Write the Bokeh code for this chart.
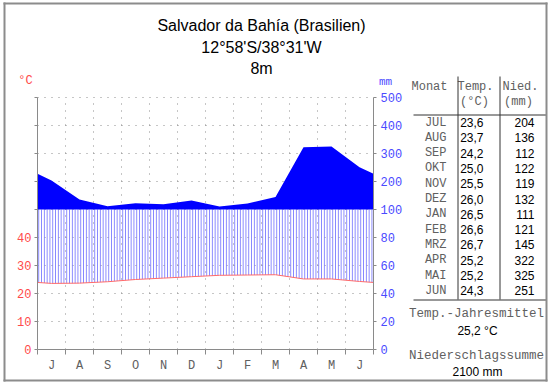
import numpy as np
from bokeh.plotting import figure
from bokeh.models import Range1d, LinearAxis, FixedTicker
from bokeh.core.properties import value
from bokeh.embed import file_html
from bokeh.resources import INLINE

# ---------------- data ----------------
station = "Salvador da Bahía (Brasilien)"
coords = "12°58'S/38°31'W"
elevation = "8m"
axis_months = ["J", "A", "S", "O", "N", "D", "J", "F", "M", "A", "M", "J"]
table_months = ["JUL", "AUG", "SEP", "OKT", "NOV", "DEZ", "JAN", "FEB", "MRZ", "APR", "MAI", "JUN"]
temp = [23.6, 23.7, 24.2, 25.0, 25.5, 26.0, 26.5, 26.6, 26.7, 25.2, 25.2, 24.3]
precip = [204, 136, 112, 122, 119, 132, 111, 121, 145, 322, 325, 251]
temp_mean_label = "Temp.-Jahresmittel"
temp_mean_text = "25,2 °C"
precip_sum_label = "Niederschlagssumme"
precip_sum_text = "2100 mm"
temp_tick_labels = [0, 10, 20, 30, 40]
mm_tick_labels = [0, 20, 40, 60, 80, 100, 200, 300, 400, 500]

# ---------------- style ----------------
W, H = 550, 384
FONT_MONO = "Liberation Mono"
FONT_SANS = "Liberation Sans"
RED = "#ff4a4a"
BLUE = "#4a4aff"
GRAY_TXT = "#606060"
AXIS_GRAY = "#8a8a8a"
BORDER = "#8c8c8c"
RULE = "#333333"

# chart frame in page pixels
FL, FR, FT, FB = 37, 373, 97, 349
PX_X = (FR - FL) / 12.0      # pixels per month
PX_Y = (FB - FT) / 90.0      # pixels per scale unit (10 °C = 20 mm below 100 mm)


def mm_scale(m):
    m = np.asarray(m, dtype=float)
    return np.where(m <= 100, m / 2.0, 50 + (m - 100) / 10.0)


x_range = Range1d(-FL / PX_X, 12 + (W - FR) / PX_X)
y_range = Range1d(-(H - FB) / PX_Y, 90 + FT / PX_Y)

p = figure(width=W, height=H, x_range=x_range, y_range=y_range,
           min_border=0, x_axis_location=None, y_axis_location=None,
           toolbar_location=None, output_backend="svg", title=None)
p.grid.visible = False
p.outline_line_color = None
p.background_fill_color = "white"
p.border_fill_color = "white"
p.extra_x_ranges = {"px": Range1d(0, W)}
p.extra_y_ranges = {"px": Range1d(H, 0)}


def txt(x, y, s, font=FONT_MONO, size="12px", color=GRAY_TXT,
        align="center", baseline="middle"):
    p.text(x=[x], y=[y], text=[s], text_font=value(font), text_font_size=value(size),
           text_color=color, text_align=align, text_baseline=baseline,
           x_range_name="px", y_range_name="px")


def seg(x0, y0, x1, y1, color=RULE, width=1):
    p.segment(x0=[x0], y0=[y0], x1=[x1], y1=[y1], line_color=color, line_width=width,
              x_range_name="px", y_range_name="px")


# ---------------- dotted grid (inside chart only) ----------------
gx = list(range(1, 12))
gy = list(range(10, 91, 10))
p.segment(x0=gx, y0=[0] * len(gx), x1=gx, y1=[90] * len(gx),
          line_color="#8c8c8c", line_dash="1 6", line_width=1)
p.segment(x0=[0] * len(gy), y0=gy, x1=[12] * len(gy), y1=gy,
          line_color="#8c8c8c", line_dash="1 6", line_width=1)

# ---------------- climate curves ----------------
centers = [i + 0.5 for i in range(12)]
xs = [0.0] + centers + [12.0]
p_edge = float(mm_scale((precip[0] + precip[-1]) / 2.0))
pv = np.concatenate([[p_edge], mm_scale(precip), [p_edge]])
t_edge = (temp[0] + temp[-1]) / 2.0
tv = np.array([t_edge] + temp + [t_edge])

p.varea(x=xs, y1=tv, y2=np.minimum(pv, 50), fill_alpha=0,
        hatch_pattern="vertical_line", hatch_color="#8080ff",
        hatch_scale=2.8, hatch_weight=1)
p.varea(x=xs, y1=50, y2=np.maximum(pv, 50), fill_color="#0000ff")
p.line(x=xs, y=tv, line_color="#ff6a6a", line_width=1)

# ---------------- axes (fixed inside the canvas) ----------------
xa = LinearAxis(fixed_location=0, bounds=(0, 12),
                ticker=FixedTicker(ticks=centers, minor_ticks=list(range(13))),
                major_label_overrides={c: m for c, m in zip(centers, axis_months)})
xa.major_tick_out = 0
xa.major_tick_in = 0
xa.minor_tick_out = 5
xa.minor_tick_in = 0
xa.axis_line_color = AXIS_GRAY
xa.minor_tick_line_color = AXIS_GRAY
xa.major_label_text_font = FONT_MONO
xa.major_label_text_font_size = "12px"
xa.major_label_text_color = GRAY_TXT
xa.major_label_standoff = 4
p.add_layout(xa, "below")

lv = list(range(0, 91, 10))
ya = LinearAxis(fixed_location=0, bounds=(0, 90), ticker=FixedTicker(ticks=lv),
                major_label_overrides={v: (str(v) if v in temp_tick_labels else "") for v in lv})
ya.major_tick_out = 3
ya.major_tick_in = 0
ya.minor_tick_out = 0
ya.minor_tick_in = 0
ya.axis_line_color = AXIS_GRAY
ya.major_tick_line_color = AXIS_GRAY
ya.major_label_text_font = FONT_MONO
ya.major_label_text_font_size = "12px"
ya.major_label_text_color = RED
ya.major_label_standoff = 3
p.add_layout(ya, "left")

rpos = [float(v) for v in mm_scale(mm_tick_labels)]
ra = LinearAxis(fixed_location=12, bounds=(0, 90), ticker=FixedTicker(ticks=rpos),
                major_label_overrides={pp: str(m) for pp, m in zip(rpos, mm_tick_labels)})
ra.major_tick_out = 3
ra.major_tick_in = 0
ra.minor_tick_out = 0
ra.minor_tick_in = 0
ra.axis_line_color = AXIS_GRAY
ra.major_tick_line_color = AXIS_GRAY
ra.major_label_text_font = FONT_MONO
ra.major_label_text_font_size = "12px"
ra.major_label_text_color = BLUE
ra.major_label_standoff = 4
p.add_layout(ra, "right")

# ---------------- titles and unit labels ----------------
txt(261, 25, station, font=FONT_SANS, size="16px", color="black", baseline="alphabetic")
txt(261, 47, coords, font=FONT_SANS, size="16px", color="black", baseline="alphabetic")
txt(261, 68, elevation, font=FONT_SANS, size="16px", color="black", baseline="alphabetic")
txt(25, 80, "°C", color=RED)
txt(385, 81, "mm", size="11px", color=BLUE)

# ---------------- table ----------------
txt(429, 86, "Monat")
txt(475, 86, "Temp.")
txt(474, 101, "(°C)")
txt(520, 86, "Nied.")
txt(518, 101, "(mm)")

row0, step = 122, 15.3
for i, (mname, t, pr) in enumerate(zip(table_months, temp, precip)):
    y = row0 + i * step
    txt(446, y, mname, align="right")
    txt(483, y, f"{t:.1f}".replace(".", ","), font=FONT_SANS, color="black", align="right")
    txt(534, y, str(pr), font=FONT_SANS, color="black", align="right")

seg(457.5, 76, 457.5, 299)
seg(499.5, 76, 499.5, 299)
seg(413, 114.5, 546, 114.5)
seg(413, 299.5, 546, 299.5)

txt(476, 313, temp_mean_label, size="12.5px")
txt(477, 330, temp_mean_text, font=FONT_SANS, color="black")
txt(476, 355, precip_sum_label, size="12.5px")
txt(477, 371, precip_sum_text, font=FONT_SANS, color="black")

# ---------------- outer frame ----------------
seg(3, 3, 547, 3, color=BORDER, width=2)
seg(3, 380, 547, 380, color=BORDER, width=2)
seg(4, 2, 4, 381, color=BORDER, width=2)
seg(546, 2, 546, 381, color=BORDER, width=2)

open("out.html", "w").write(file_html(p, INLINE))
